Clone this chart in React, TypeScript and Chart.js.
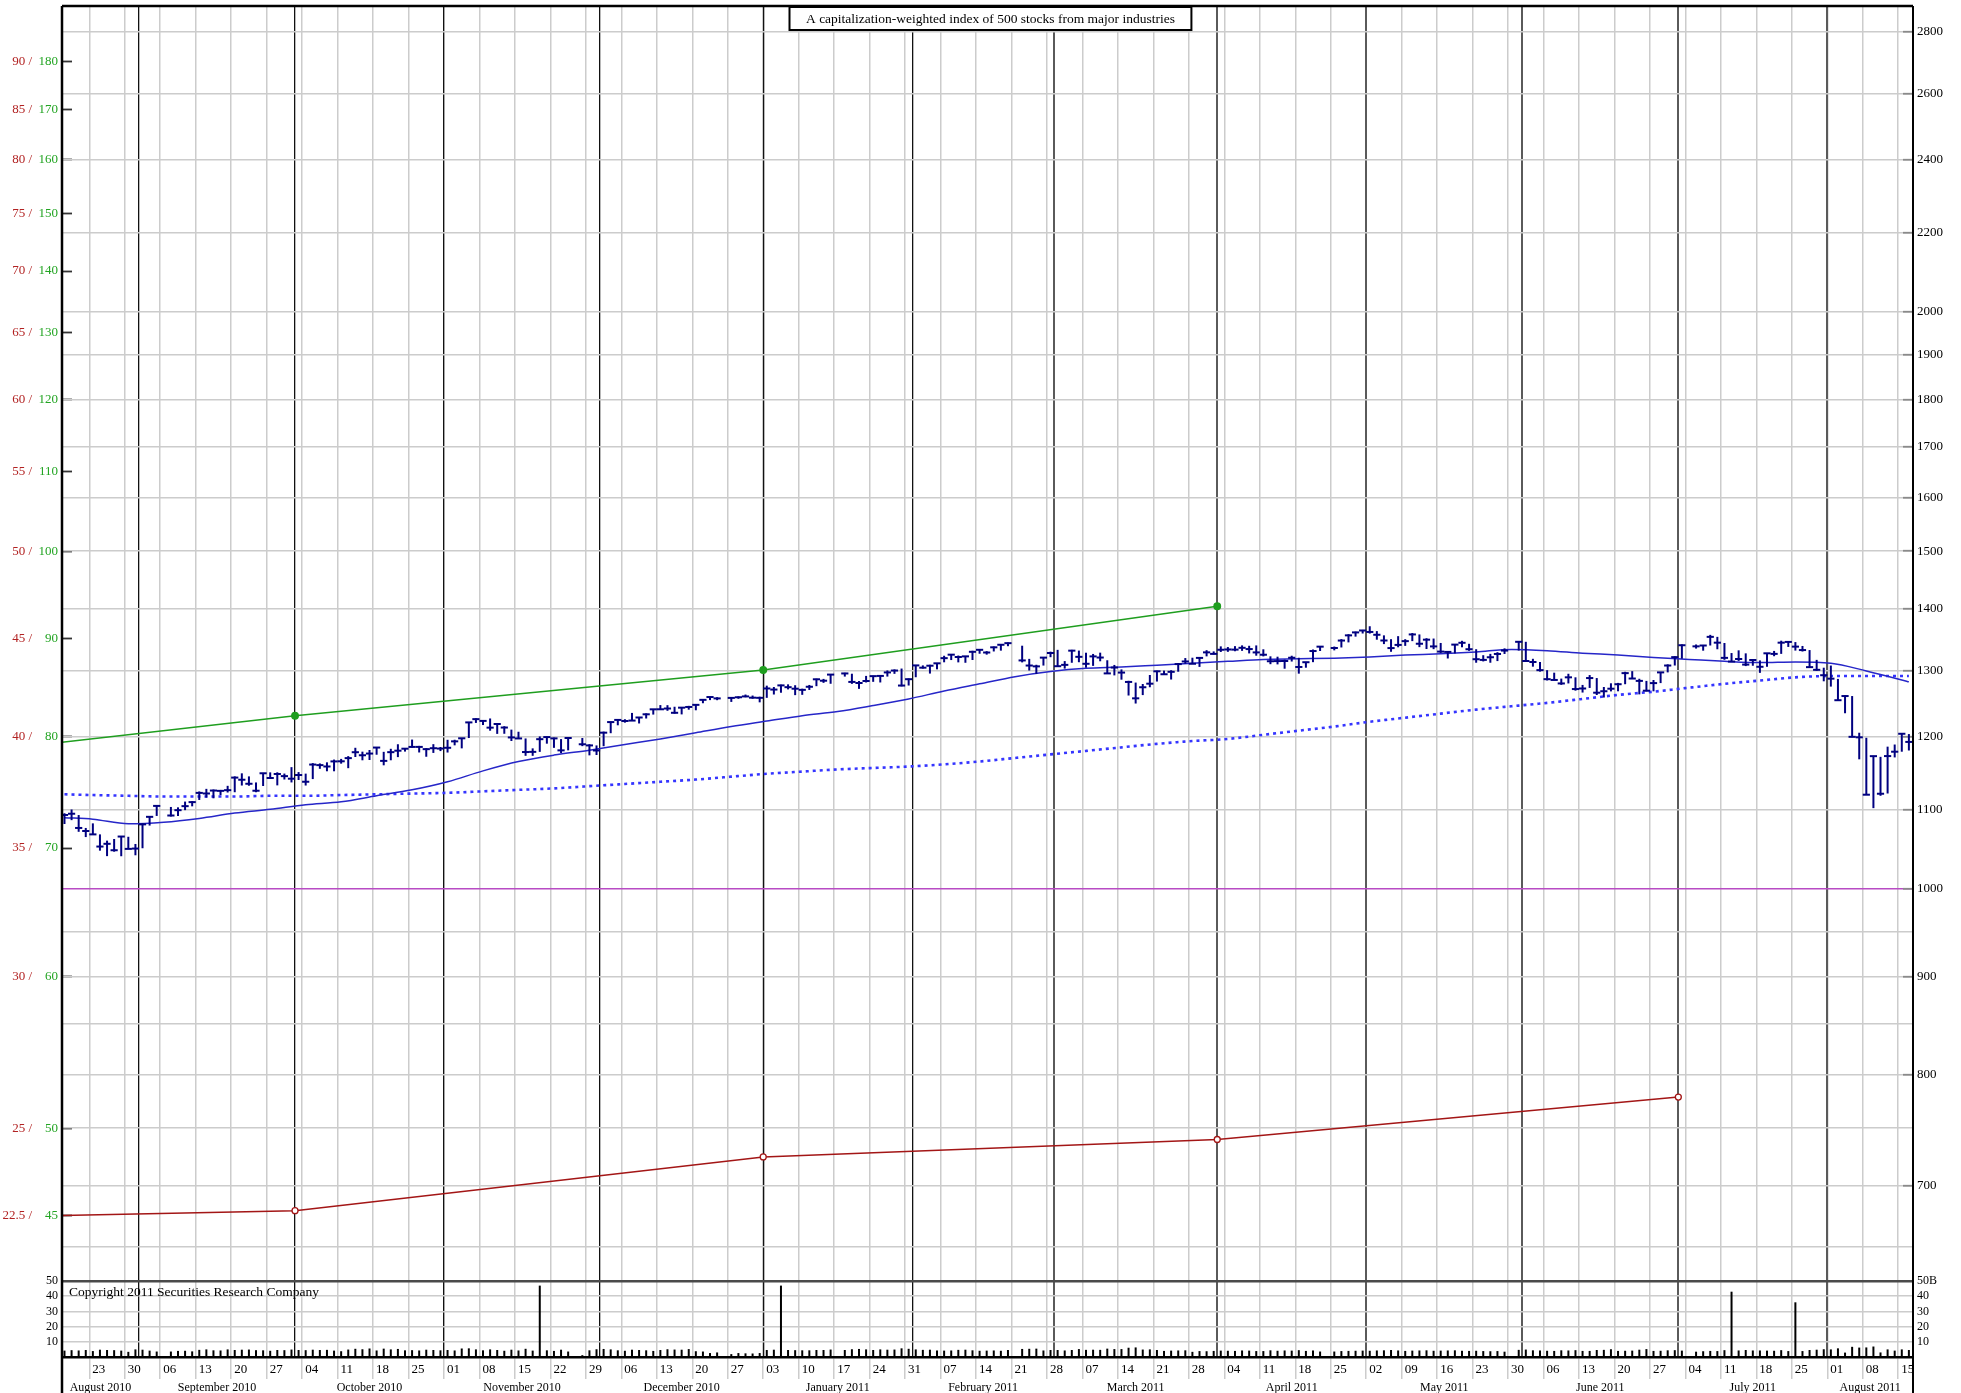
import React, { useEffect, useRef } from 'react';
import { Chart, registerables } from 'chart.js';

Chart.register(...registerables);

const SERIF = "'Liberation Serif', 'DejaVu Serif', 'Times New Roman', serif";

// ---------- axis ranges / layout constants ----------
const START_DATE = '2010-08-17'; // weekday slot 0
const SLOT_COUNT = 261;
const X_MIN = -0.35;
const X_MAX = 260.58;
const PRICE_MIN = 624.1;
const PRICE_MAX = 2887.5;
const VOLUME_MAX = 50;
const PRICE_STACK_WEIGHT = 1276;
const VOLUME_STACK_WEIGHT = 76;

const TITLE = 'A capitalization-weighted index of 500 stocks from major industries';
const COPYRIGHT = 'Copyright 2011 Securities Research Company';

// ---------- tick labels ----------
const MONTH_LABELS = ['August 2010', 'September 2010', 'October 2010', 'November 2010', 'December 2010', 'January 2011',
  'February 2011', 'March 2011', 'April 2011', 'May 2011', 'June 2011', 'July 2011', 'August 2011'];
const MONTH_STARTS = ['2010-09', '2010-10', '2010-11', '2010-12', '2011-01', '2011-02', '2011-03', '2011-04',
  '2011-05', '2011-06', '2011-07', '2011-08'];
const RIGHT_TICKS = [650, 700, 750, 800, 850, 900, 950, 1000, 1100, 1200, 1300, 1400, 1500, 1600, 1700, 1800, 1900, 2000, 2200, 2400, 2600, 2800];
const RIGHT_LABELS = ['', '700', '', '800', '', '900', '', '1000', '1100', '1200', '1300', '1400', '1500', '1600', '1700', '1800', '1900', '2000', '2200', '2400', '2600', '2800'];
const LEFT_TICK_PRICES = [675, 750, 900, 1050, 1200, 1350, 1500, 1650, 1800, 1950, 2100, 2250, 2400, 2550, 2700];
const LEFT_RED_LABELS = ['22.5 /', '25 /', '30 /', '35 /', '40 /', '45 /', '50 /', '55 /', '60 /', '65 /', '70 /', '75 /', '80 /', '85 /', '90 /'];
const LEFT_GREEN_LABELS = ['45', '50', '60', '70', '80', '90', '100', '110', '120', '130', '140', '150', '160', '170', '180'];
const VOLUME_TICKS = [10, 20, 30, 40, 50];
const VOLUME_LEFT_LABELS = ['10', '20', '30', '40', '50'];
const VOLUME_RIGHT_LABELS = ['10', '20', '30', '40', '50B'];

// ---------- daily data (one row per week, Mon..Fri; null = market holiday) ----------
const CLOSES = [
  1092.54, 1094.16, 1075.63, 1071.69,
  1067.36, 1051.87, 1055.33, 1047.22, 1064.59,
  1048.92, 1049.33, 1080.29, 1090.10, 1104.51,
  null, 1091.84, 1098.87, 1104.18, 1109.55,
  1121.90, 1121.10, 1125.07, 1124.66, 1125.59,
  1142.71, 1139.78, 1134.28, 1124.83, 1148.67,
  1142.16, 1147.70, 1144.73, 1141.20, 1146.24,
  1137.03, 1160.75, 1159.97, 1158.06, 1165.15,
  1165.32, 1169.77, 1178.10, 1173.81, 1176.19,
  1184.71, 1165.90, 1178.17, 1180.26, 1183.08,
  1185.62, 1185.64, 1182.45, 1183.78, 1183.26,
  1184.38, 1193.57, 1197.96, 1221.06, 1225.85,
  1223.25, 1213.40, 1218.71, 1213.54, 1199.21,
  1197.75, 1178.34, 1178.59, 1196.69, 1199.73,
  1197.84, 1180.73, 1198.35, null, 1189.40,
  1187.76, 1180.55, 1206.07, 1221.53, 1224.71,
  1223.12, 1223.75, 1228.28, 1233.00, 1240.40,
  1240.46, 1241.59, 1235.23, 1242.87, 1243.91,
  1247.08, 1254.60, 1258.84, 1256.77, null,
  1257.54, 1258.51, 1259.78, 1257.88, 1257.64,
  1271.87, 1270.20, 1276.56, 1273.85, 1271.50,
  1269.75, 1274.48, 1285.96, 1283.76, 1293.24,
  null, 1295.02, 1281.92, 1280.26, 1283.35,
  1290.84, 1291.18, 1296.63, 1299.54, 1276.34,
  1286.12, 1307.59, 1304.03, 1307.10, 1310.87,
  1319.05, 1324.57, 1320.88, 1321.87, 1329.15,
  1332.32, 1328.01, 1336.32, 1340.43, 1343.01,
  null, 1315.44, 1307.40, 1306.10, 1319.88,
  1327.22, 1306.33, 1308.44, 1330.97, 1321.15,
  1310.13, 1321.82, 1320.02, 1295.11, 1304.28,
  1296.39, 1281.87, 1256.88, 1273.72, 1279.20,
  1298.38, 1293.77, 1297.54, 1309.66, 1313.80,
  1310.19, 1319.44, 1328.26, 1325.83, 1332.41,
  1332.87, 1332.63, 1335.54, 1333.51, 1328.17,
  1324.46, 1314.16, 1314.41, 1314.52, 1319.68,
  1305.14, 1312.62, 1330.36, 1337.38, null,
  1335.25, 1347.24, 1355.66, 1360.48, 1363.61,
  1361.22, 1356.62, 1347.32, 1335.10, 1340.20,
  1346.29, 1357.16, 1342.08, 1348.65, 1337.77,
  1329.47, 1328.98, 1340.68, 1343.60, 1333.27,
  1317.37, 1316.28, 1320.47, 1325.69, 1331.10,
  null, 1345.20, 1314.55, 1312.94, 1300.16,
  1286.17, 1284.94, 1279.56, 1289.00, 1270.98,
  1271.83, 1287.87, 1265.42, 1267.64, 1271.50,
  1278.36, 1295.52, 1287.14, 1283.50, 1268.45,
  1280.10, 1296.67, 1307.41, 1320.64, 1339.67,
  null, 1337.88, 1339.22, 1353.22, 1343.80,
  1319.49, 1313.64, 1317.72, 1308.87, 1316.14,
  1305.44, 1326.73, 1325.84, 1343.80, 1345.02,
  1337.43, 1331.94, 1304.89, 1300.67, 1292.28,
  1286.94, 1254.05, 1260.34, 1200.07, 1199.38,
  1119.46, 1172.53, 1120.76, 1172.64, 1178.81,
  1204.49, 1192.76,
];

const HIGHS = [
  1094.81, 1099.77, 1092.44, 1075.63,
  1081.58, 1067.36, 1059.38, 1061.45, 1065.21,
  1064.29, 1055.14, 1081.30, 1090.10, 1105.10,
  null, 1103.11, 1102.60, 1110.27, 1110.88,
  1123.87, 1127.36, 1126.46, 1125.90, 1131.47,
  1144.38, 1148.59, 1144.38, 1136.08, 1148.90,
  1149.92, 1150.00, 1148.26, 1157.16, 1150.30,
  1148.16, 1162.76, 1162.33, 1163.87, 1167.73,
  1168.68, 1172.58, 1184.38, 1178.89, 1181.20,
  1185.53, 1178.64, 1182.94, 1189.43, 1183.93,
  1196.14, 1187.11, 1183.80, 1189.53, 1185.53,
  1195.81, 1195.88, 1198.30, 1221.25, 1227.08,
  1224.57, 1226.84, 1218.75, 1215.45, 1210.50,
  1207.43, 1197.75, 1183.56, 1200.65, 1200.29,
  1198.94, 1196.82, 1198.62, null, 1198.35,
  1189.40, 1187.76, 1207.61, 1221.89, 1225.57,
  1225.73, 1235.05, 1228.93, 1234.35, 1240.40,
  1246.73, 1246.59, 1244.25, 1243.23, 1245.60,
  1248.29, 1255.82, 1259.39, 1258.59, null,
  1258.59, 1259.90, 1262.60, 1261.09, 1259.34,
  1276.17, 1274.12, 1277.63, 1278.17, 1276.83,
  1271.52, 1277.25, 1286.87, 1286.57, 1293.24,
  null, 1296.06, 1294.60, 1283.32, 1291.21,
  1291.26, 1291.26, 1299.74, 1301.29, 1302.67,
  1287.17, 1308.10, 1307.61, 1308.60, 1311.00,
  1322.85, 1324.87, 1323.21, 1322.43, 1330.79,
  1332.69, 1330.16, 1337.61, 1341.50, 1344.07,
  null, 1338.91, 1317.91, 1308.61, 1320.61,
  1329.38, 1332.28, 1314.39, 1332.28, 1331.08,
  1327.68, 1325.74, 1327.77, 1315.72, 1308.35,
  1301.33, 1283.65, 1280.91, 1278.73, 1292.62,
  1299.18, 1299.48, 1300.00, 1311.34, 1319.18,
  1319.74, 1319.45, 1331.74, 1329.77, 1337.85,
  1336.74, 1338.21, 1339.46, 1338.80, 1339.38,
  1333.16, 1321.95, 1321.35, 1316.79, 1322.88,
  1319.68, 1312.70, 1332.83, 1337.49, null,
  1337.55, 1349.55, 1357.49, 1361.71, 1364.56,
  1370.58, 1362.59, 1355.66, 1349.44, 1354.36,
  1349.44, 1359.44, 1357.16, 1351.04, 1350.47,
  1343.33, 1330.42, 1341.29, 1346.82, 1342.00,
  1333.27, 1323.72, 1325.86, 1328.51, 1334.62,
  null, 1345.20, 1345.20, 1318.03, 1312.94,
  1300.16, 1296.22, 1287.04, 1294.54, 1289.00,
  1277.29, 1292.50, 1287.87, 1274.11, 1279.82,
  1280.42, 1297.62, 1298.61, 1286.79, 1283.50,
  1284.91, 1296.80, 1309.21, 1321.97, 1341.01,
  null, 1340.89, 1340.12, 1356.48, 1353.22,
  1343.31, 1327.16, 1331.48, 1326.68, 1317.74,
  1315.47, 1327.16, 1330.55, 1347.00, 1346.10,
  1344.76, 1338.51, 1331.91, 1316.32, 1304.00,
  1307.38, 1286.56, 1261.20, 1260.34, 1206.00,
  1198.70, 1172.88, 1171.56, 1186.00, 1189.04,
  1204.49, 1204.07,
];

const LOWS = [
  1080.78, 1085.76, 1070.66, 1063.91,
  1067.08, 1046.68, 1039.83, 1045.40, 1039.70,
  1048.79, 1040.88, 1049.72, 1078.71, 1091.27,
  null, 1090.55, 1091.15, 1098.87, 1103.92,
  1112.43, 1115.58, 1114.63, 1118.88, 1122.43,
  1122.79, 1131.87, 1131.58, 1122.79, 1131.26,
  1142.00, 1132.09, 1140.09, 1136.08, 1139.42,
  1131.87, 1140.68, 1154.85, 1151.41, 1151.41,
  1162.02, 1155.71, 1171.32, 1166.71, 1167.12,
  1174.55, 1159.71, 1166.74, 1171.17, 1178.99,
  1184.74, 1177.72, 1171.70, 1177.10, 1179.70,
  1177.65, 1187.86, 1183.56, 1198.34, 1220.29,
  1217.19, 1208.94, 1204.33, 1204.49, 1194.08,
  1197.15, 1173.00, 1173.00, 1178.59, 1190.25,
  1184.29, 1176.91, 1180.73, null, 1186.71,
  1173.64, 1174.14, 1186.60, 1205.30, 1216.82,
  1220.67, 1223.25, 1219.50, 1226.79, 1232.58,
  1240.34, 1238.17, 1234.01, 1232.85, 1239.87,
  1238.96, 1249.49, 1254.19, 1254.05, null,
  1251.48, 1256.22, 1258.51, 1256.32, 1250.84,
  1257.62, 1262.66, 1265.36, 1270.43, 1261.70,
  1262.18, 1269.62, 1275.36, 1280.47, 1279.07,
  null, 1290.16, 1278.92, 1271.26, 1281.07,
  1282.06, 1281.07, 1290.16, 1294.41, 1275.10,
  1276.36, 1289.14, 1302.62, 1294.83, 1301.42,
  1312.49, 1316.03, 1312.36, 1311.74, 1316.08,
  1326.04, 1324.61, 1329.67, 1331.00, 1338.12,
  null, 1312.33, 1299.55, 1294.26, 1307.34,
  1320.55, 1306.14, 1302.58, 1311.74, 1312.59,
  1303.99, 1306.86, 1314.09, 1294.21, 1291.99,
  1285.37, 1261.13, 1249.05, 1261.78, 1273.72,
  1282.48, 1292.70, 1285.60, 1297.74, 1310.15,
  1310.19, 1305.26, 1321.89, 1325.03, 1328.89,
  1329.10, 1330.03, 1330.67, 1326.56, 1322.94,
  1321.82, 1309.51, 1309.19, 1302.42, 1313.68,
  1294.70, 1303.97, 1312.70, 1330.42, null,
  1331.47, 1336.07, 1344.25, 1353.60, 1358.69,
  1358.59, 1348.59, 1341.50, 1329.17, 1336.36,
  1338.64, 1346.29, 1336.58, 1333.58, 1333.36,
  1327.32, 1318.51, 1326.56, 1336.36, 1330.67,
  1311.80, 1313.87, 1311.80, 1314.41, 1325.69,
  null, 1331.10, 1313.71, 1305.61, 1297.90,
  1284.17, 1284.74, 1277.42, 1279.56, 1268.53,
  1265.64, 1272.68, 1261.90, 1258.07, 1267.40,
  1267.56, 1278.36, 1286.79, 1262.87, 1267.46,
  1267.53, 1280.10, 1296.67, 1307.41, 1318.18,
  null, 1334.30, 1330.92, 1339.22, 1333.20,
  1316.42, 1313.33, 1314.69, 1306.51, 1307.06,
  1295.92, 1305.44, 1322.10, 1325.84, 1336.95,
  1331.09, 1329.59, 1303.49, 1299.16, 1282.86,
  1274.73, 1254.03, 1234.56, 1199.54, 1168.09,
  1119.28, 1101.54, 1118.01, 1121.09, 1170.74,
  1178.81, 1180.53,
];

// volume, billions of shares
const VOLUMES = [
  4.2, 4.5, 4.3, 4.6,
  3.9, 4.8, 4.6, 4.5, 4.2,
  3.4, 5.0, 4.8, 4.2, 3.6,
  null, 3.6, 4.0, 4.1, 3.7,
  4.7, 5.0, 4.4, 4.3, 5.0,
  4.6, 4.8, 4.9, 4.5, 4.4,
  4.1, 4.6, 4.5, 4.9, 4.6,
  4.5, 4.8, 4.6, 4.7, 4.2,
  3.8, 4.9, 5.4, 5.1, 5.6,
  4.3, 5.5, 5.0, 5.3, 4.4,
  4.5, 4.3, 4.8, 4.6, 4.4,
  4.6, 4.3, 5.6, 5.7, 5.0,
  4.4, 5.0, 4.6, 4.1, 4.8,
  4.3, 5.4, 4.2, 47.0, 4.4,
  4.0, 4.8, 3.6, null, 1.2,
  4.4, 5.1, 5.3, 5.0, 4.4,
  4.1, 4.8, 4.6, 4.4, 4.0,
  4.6, 5.1, 4.9, 4.8, 5.2,
  3.8, 3.6, 2.6, 3.0, null,
  1.9, 2.6, 2.4, 2.3, 2.6,
  4.6, 4.8, 47.0, 4.6, 4.5,
  4.4, 4.4, 4.6, 4.6, 4.9,
  null, 4.6, 5.1, 5.3, 5.0,
  4.6, 5.0, 4.8, 4.9, 5.7,
  5.4, 5.0, 4.7, 4.8, 4.3,
  4.2, 4.3, 4.7, 4.8, 4.4,
  4.1, 4.2, 4.3, 4.1, 4.6,
  null, 5.3, 5.4, 5.5, 4.3,
  4.6, 4.6, 4.3, 4.6, 5.2,
  4.7, 4.8, 4.7, 5.5, 5.2,
  5.2, 6.1, 6.3, 4.9, 5.0,
  4.6, 4.0, 4.2, 4.3, 4.4,
  3.4, 3.9, 3.8, 4.0, 4.2,
  4.1, 4.0, 4.3, 4.2, 3.9,
  3.9, 4.4, 4.1, 4.3, 4.2,
  4.5, 4.0, 4.3, 3.6, null,
  3.6, 3.9, 4.0, 4.1, 4.2,
  4.1, 4.3, 4.4, 4.6, 4.3,
  4.0, 4.2, 4.3, 4.4, 4.1,
  4.2, 4.3, 4.4, 4.1, 4.0,
  4.1, 3.9, 3.8, 3.9, 3.5,
  null, 4.7, 4.9, 4.4, 4.3,
  4.1, 4.0, 4.4, 4.3, 4.5,
  4.0, 4.0, 4.6, 4.7, 5.1,
  4.0, 4.1, 4.2, 4.8, 5.2,
  4.0, 4.1, 4.4, 4.5, 4.2,
  null, 3.5, 3.8, 4.0, 3.9,
  4.5, 43.0, 4.3, 4.6, 4.3,
  4.3, 4.2, 4.1, 4.5, 3.9,
  36.0, 3.9, 4.6, 4.8, 5.1,
  5.0, 5.7, 2.9, 6.7, 6.2,
  6.3, 6.9, 3.0, 5.0, 4.2,
  5.0, 4.6,
];

// ---------- moving averages at weekly points ----------
const MA_DATES = ['2010-08-17', '2010-08-23', '2010-08-30', '2010-09-06', '2010-09-13', '2010-09-20', '2010-09-27',
  '2010-10-04', '2010-10-11', '2010-10-18', '2010-10-25', '2010-11-01', '2010-11-08', '2010-11-15', '2010-11-22',
  '2010-11-29', '2010-12-06', '2010-12-13', '2010-12-20', '2010-12-27', '2011-01-03', '2011-01-10', '2011-01-17',
  '2011-01-24', '2011-01-31', '2011-02-07', '2011-02-14', '2011-02-21', '2011-02-28', '2011-03-07', '2011-03-14',
  '2011-03-21', '2011-03-28', '2011-04-04', '2011-04-11', '2011-04-18', '2011-04-25', '2011-05-02', '2011-05-09',
  '2011-05-16', '2011-05-23', '2011-05-30', '2011-06-06', '2011-06-13', '2011-06-20', '2011-06-27', '2011-07-04',
  '2011-07-11', '2011-07-18', '2011-07-25', '2011-08-01', '2011-08-08', '2011-08-15', '2011-08-16'];
const MA_SHORT = [1089, 1087, 1081, 1083, 1088, 1095, 1100, 1106, 1110, 1118, 1126, 1137, 1152, 1165, 1174, 1181,
  1189, 1197, 1206, 1215, 1223, 1231, 1237, 1246, 1256, 1268, 1279, 1290, 1298, 1303, 1305, 1308, 1311, 1314, 1317,
  1318, 1319, 1321, 1324, 1326, 1329, 1333, 1331, 1327, 1324, 1320, 1317, 1314, 1312, 1313, 1311, 1299, 1285, 1282];
const MA_LONG = [1120, 1119, 1118, 1117, 1117, 1117, 1118, 1118, 1119, 1120, 1121, 1122, 1124, 1126, 1128, 1131,
  1134, 1137, 1140, 1144, 1148, 1151, 1154, 1156, 1158, 1161, 1165, 1170, 1175, 1180, 1185, 1190, 1194, 1197, 1203,
  1209, 1215, 1222, 1228, 1234, 1240, 1245, 1250, 1256, 1262, 1267, 1273, 1279, 1284, 1289, 1291, 1291, 1291, 1291];

// ---------- quarterly earnings (green, x15) and dividends (red, x30) ----------
const EARNINGS_DATES = ['2010-07', '2010-10', '2011-01', '2011-04'];
const EARNINGS = [77.0, 82.05, 86.7, 93.6];
const EARNINGS_RATIO = 15;
const DIVIDEND_DATES = ['2010-07', '2010-10', '2011-01', '2011-04', '2011-07'];
const DIVIDENDS = [22.37, 22.64, 24.15, 24.66, 25.95];
const DIVIDEND_RATIO = 30;

const REFERENCE_LINE = 1000;

// ---------- colours ----------
const NAVY = '#000080';
const RED_TXT = '#b22222';
const GREEN_TXT = '#22a422';
const GRID = '#cccccc';

// ---------- calendar helpers ----------
function parseDate(s: string) {
  const [y, m, d] = s.split('-').map(Number);
  return new Date(Date.UTC(y, m - 1, d || 1));
}
function addDays(d: Date, n: number) {
  const r = new Date(d.getTime());
  r.setUTCDate(r.getUTCDate() + n);
  return r;
}
function isWeekday(d: Date) {
  const w = d.getUTCDay();
  return w !== 0 && w !== 6;
}
function weekdayIndex(s: string | Date) {
  const start = parseDate(START_DATE);
  const target = typeof s === 'string' ? parseDate(s) : s;
  let n = 0;
  if (target.getTime() >= start.getTime()) {
    for (let d = start; d.getTime() < target.getTime(); d = addDays(d, 1)) if (isWeekday(d)) n++;
    return n;
  }
  for (let d = target; d.getTime() < start.getTime(); d = addDays(d, 1)) if (isWeekday(d)) n--;
  return n;
}
function monthBoundary(ym: string) {
  let d = parseDate(ym + '-01');
  while (!isWeekday(d)) d = addDays(d, 1);
  return weekdayIndex(d) - 0.5;
}

const SLOT_DATES: Date[] = [];
{
  let d = parseDate(START_DATE);
  while (SLOT_DATES.length < SLOT_COUNT) {
    if (isWeekday(d)) SLOT_DATES.push(d);
    d = addDays(d, 1);
  }
}

const WEEK_TICKS: { value: number; label: string }[] = [];
SLOT_DATES.forEach((d, i) => {
  if (d.getUTCDay() === 1) WEEK_TICKS.push({ value: i - 0.5, label: String(d.getUTCDate()).padStart(2, '0') });
});

const BOUNDARIES = MONTH_STARTS.map(monthBoundary);
const MONTH_EDGES = [X_MIN, ...BOUNDARIES, X_MAX];
const MONTH_TICKS: { value: number; label: string; boundary: boolean; dark: boolean }[] = [];
BOUNDARIES.forEach((b, i) => MONTH_TICKS.push({ value: b, label: '', boundary: true, dark: i < 6 }));
MONTH_LABELS.forEach((lab, i) => MONTH_TICKS.push({ value: (MONTH_EDGES[i] + MONTH_EDGES[i + 1]) / 2, label: lab, boundary: false, dark: false }));

// ---------- datasets ----------
const rangeBars: any[] = [];
const closeTicks: any[] = [];
const volumeBars: any[] = [];
for (let i = 0; i < SLOT_COUNT; i++) {
  if (CLOSES[i] != null) {
    rangeBars.push({ x: i, y: [LOWS[i], HIGHS[i]] });
    closeTicks.push({ x: i, y: CLOSES[i] });
  }
  if (VOLUMES[i] != null) volumeBars.push({ x: i, y: VOLUMES[i] });
}
const maShort = MA_DATES.map((d, i) => ({ x: weekdayIndex(d), y: MA_SHORT[i] }));
const maLong = MA_DATES.map((d, i) => ({ x: weekdayIndex(d), y: MA_LONG[i] }));
const earningsPts = EARNINGS_DATES.map((d, i) => ({ x: monthBoundary(d), y: EARNINGS[i] * EARNINGS_RATIO }));
const dividendPts = DIVIDEND_DATES.map((d, i) => ({ x: monthBoundary(d), y: DIVIDENDS[i] * DIVIDEND_RATIO }));

// ---------- scale helpers ----------
const setTicks = (values: number[]) => (scale: any) => {
  scale.ticks = values.map((v) => ({ value: v }));
};
const fitW = (w: number) => (s: any) => {
  s.width = w;
  s.paddingTop = 0; s.paddingBottom = 0; s.paddingLeft = 0; s.paddingRight = 0;
};
const fitH = (h: number) => (s: any) => {
  s.height = h;
  s.paddingTop = 0; s.paddingBottom = 0; s.paddingLeft = 0; s.paddingRight = 0;
};
const font13 = { family: SERIF, size: 13 };
const font12 = { family: SERIF, size: 12 };

const decorPlugin = {
  id: 'decor',
  afterDatasetsDraw(chart: any) {
    const { ctx, chartArea: a } = chart;
    const vol = chart.scales.yVR;
    ctx.save();
    // title box
    ctx.font = `13.5px ${SERIF}`;
    const tw = ctx.measureText(TITLE).width;
    const cx = a.left + a.width * 0.5016;
    const bw = tw + 33;
    const bx = cx - bw / 2;
    const by = a.top + 1;
    const bh = 23;
    ctx.fillStyle = '#fff';
    ctx.fillRect(bx, by, bw, bh);
    ctx.strokeStyle = '#000';
    ctx.lineWidth = 2;
    ctx.strokeRect(bx, by, bw, bh);
    ctx.fillStyle = '#000';
    ctx.textAlign = 'center';
    ctx.textBaseline = 'middle';
    ctx.fillText(TITLE, cx, by + bh / 2 + 1);
    // copyright
    ctx.font = `13.5px ${SERIF}`;
    ctx.textAlign = 'left';
    ctx.fillText(COPYRIGHT, a.left + 7, vol.top + 11);
    // frame
    ctx.strokeStyle = '#000';
    ctx.lineWidth = 2.5;
    ctx.beginPath();
    ctx.moveTo(a.left, a.top);
    ctx.lineTo(a.left, chart.height);
    ctx.moveTo(a.left, a.top);
    ctx.lineTo(a.right, a.top);
    ctx.stroke();
    ctx.lineWidth = 2;
    ctx.beginPath();
    ctx.moveTo(a.right, a.top);
    ctx.lineTo(a.right, chart.height);
    ctx.stroke();
    ctx.restore();
  },
};

export default function App() {
  const ref = useRef<HTMLCanvasElement>(null);

  useEffect(() => {
    if (!ref.current) return;
    const chart = new Chart(ref.current, {
      type: 'bar',
      data: {
        datasets: [
          {
            type: 'line', label: 'close', data: closeTicks, xAxisID: 'x', yAxisID: 'yP',
            showLine: false, pointStyle: 'line', pointRadius: 3.6, pointBorderWidth: 2,
            pointBorderColor: NAVY, pointBackgroundColor: NAVY, order: 0,
          } as any,
          {
            type: 'bar', label: 'range', data: rangeBars, xAxisID: 'x', yAxisID: 'yP',
            backgroundColor: NAVY, borderWidth: 0, grouped: false, maxBarThickness: 2, order: 1,
          } as any,
          {
            type: 'bar', label: 'volume', data: volumeBars, xAxisID: 'x', yAxisID: 'yVL',
            backgroundColor: '#000', borderWidth: 0, grouped: false, maxBarThickness: 2, order: 1,
          } as any,
          {
            type: 'line', label: 'earnings', data: earningsPts, xAxisID: 'x', yAxisID: 'yP',
            borderColor: '#1f9e1f', borderWidth: 1.5, pointRadius: [0, 3.2, 3.2, 3.2],
            pointBackgroundColor: '#1f9e1f', pointBorderColor: '#1f9e1f', order: 2,
          } as any,
          {
            type: 'line', label: 'dividends', data: dividendPts, xAxisID: 'x', yAxisID: 'yP',
            borderColor: '#a31616', borderWidth: 1.5, pointRadius: [0, 3, 3, 3, 3],
            pointBackgroundColor: '#fff', pointBorderColor: '#a31616', pointBorderWidth: 1.3, order: 2,
          } as any,
          {
            type: 'line', label: 'ma short', data: maShort, xAxisID: 'x', yAxisID: 'yP',
            borderColor: '#2626c8', borderWidth: 1.5, pointRadius: 0, cubicInterpolationMode: 'monotone', order: 3,
          } as any,
          {
            type: 'line', label: 'ma long', data: maLong, xAxisID: 'x', yAxisID: 'yP',
            borderColor: '#3535ff', borderWidth: 2.6, borderDash: [3, 4], pointRadius: 0,
            cubicInterpolationMode: 'monotone', order: 3,
          } as any,
        ],
      },
      options: {
        responsive: false,
        animation: false,
        devicePixelRatio: 1,
        events: [],
        layout: { padding: { top: 5, left: 0, right: 0, bottom: 0 } },
        plugins: { legend: { display: false }, tooltip: { enabled: false }, title: { display: false } },
        scales: {
          x: {
            type: 'linear', position: 'bottom', weight: 0, min: X_MIN, max: X_MAX, offset: false,
            afterBuildTicks: (s: any) => { s.ticks = WEEK_TICKS.map((t) => ({ value: t.value })); },
            afterFit: fitH(18),
            grid: { offset: false, color: GRID, lineWidth: 1.5, tickLength: 22, tickColor: GRID, tickWidth: 1.5 },
            border: { display: true, color: '#000', width: 2.5 },
            ticks: {
              autoSkip: false, maxRotation: 0, minRotation: 0, align: 'start', padding: -17, labelOffset: 3,
              color: '#000', font: font13, callback: (_v: any, i: number) => WEEK_TICKS[i]?.label ?? '',
            },
          },
          x2: {
            type: 'linear', position: 'bottom', weight: 1, min: X_MIN, max: X_MAX, offset: false,
            afterBuildTicks: (s: any) => { s.ticks = MONTH_TICKS.map((t) => ({ value: t.value })); },
            afterFit: fitH(18),
            grid: {
              offset: false, drawTicks: false, drawOnChartArea: true,
              color: (c: any) => {
                const t = MONTH_TICKS[c.index];
                if (!t || !t.boundary) return 'rgba(0,0,0,0)';
                return t.dark ? '#111' : '#5a5a5a';
              },
              lineWidth: (c: any) => (MONTH_TICKS[c.index]?.dark ? 1.3 : 2),
            },
            border: { display: false },
            ticks: {
              autoSkip: false, maxRotation: 0, minRotation: 0, padding: 6, color: '#000', font: font12,
              callback: (_v: any, i: number) => MONTH_TICKS[i]?.label ?? '',
            },
          },
          yR: {
            type: 'logarithmic', position: 'left', weight: 4, stack: 'leftOuter', stackWeight: PRICE_STACK_WEIGHT,
            min: PRICE_MIN, max: PRICE_MAX,
            afterBuildTicks: setTicks(LEFT_TICK_PRICES), afterFit: fitW(35),
            grid: { display: true, drawOnChartArea: false, drawTicks: false },
            border: { display: false },
            ticks: { autoSkip: false, padding: 3, color: RED_TXT, font: font13, callback: (_v: any, i: number) => LEFT_RED_LABELS[i] ?? '' },
          },
          yRV: {
            type: 'linear', position: 'left', weight: 3, stack: 'leftOuter', stackWeight: VOLUME_STACK_WEIGHT,
            min: 0, max: VOLUME_MAX, afterFit: fitW(35),
            grid: { display: false, drawTicks: false }, border: { display: false }, ticks: { display: false },
          },
          yG: {
            type: 'logarithmic', position: 'left', weight: 2, stack: 'leftInner', stackWeight: PRICE_STACK_WEIGHT,
            min: PRICE_MIN, max: PRICE_MAX,
            afterBuildTicks: setTicks(LEFT_TICK_PRICES), afterFit: fitW(27),
            grid: { display: true, drawOnChartArea: false, drawTicks: true, tickLength: -10, tickColor: '#333', tickWidth: 1.8 },
            border: { display: false },
            ticks: { autoSkip: false, padding: 14, color: GREEN_TXT, font: font13, callback: (_v: any, i: number) => LEFT_GREEN_LABELS[i] ?? '' },
          },
          yVL: {
            type: 'linear', position: 'left', weight: 1, stack: 'leftInner', stackWeight: VOLUME_STACK_WEIGHT,
            min: 0, max: VOLUME_MAX, beginAtZero: true,
            afterBuildTicks: setTicks(VOLUME_TICKS), afterFit: fitW(27),
            grid: { display: false, drawTicks: false }, border: { display: false },
            ticks: { autoSkip: false, padding: 4, color: '#000', font: font12, callback: (_v: any, i: number) => VOLUME_LEFT_LABELS[i] ?? '' },
          },
          yP: {
            type: 'logarithmic', position: 'right', weight: 0, stack: 'right', stackWeight: PRICE_STACK_WEIGHT,
            min: PRICE_MIN, max: PRICE_MAX, beginAtZero: false,
            afterBuildTicks: setTicks(RIGHT_TICKS), afterFit: fitW(48),
            grid: {
              display: true, drawOnChartArea: true, drawTicks: true, tickLength: -10,
              color: (c: any) => (c.tick && c.tick.value === REFERENCE_LINE ? '#b84bc4' : GRID),
              lineWidth: (c: any) => (c.tick && c.tick.value === REFERENCE_LINE ? 1.6 : 1.5),
              tickColor: (c: any) => (RIGHT_LABELS[c.index] ? '#8a8a8a' : 'rgba(0,0,0,0)'),
              tickWidth: 1.8,
            },
            border: { display: false },
            ticks: { autoSkip: false, padding: 14, color: '#000', font: font13, callback: (_v: any, i: number) => RIGHT_LABELS[i] ?? '' },
          },
          yVR: {
            type: 'linear', position: 'right', weight: 1, stack: 'right', stackWeight: VOLUME_STACK_WEIGHT,
            min: 0, max: VOLUME_MAX,
            afterBuildTicks: setTicks(VOLUME_TICKS), afterFit: fitW(48),
            grid: {
              display: true, drawOnChartArea: true, drawTicks: false,
              color: (c: any) => (c.tick && c.tick.value === VOLUME_MAX ? '#4a4a4a' : GRID),
              lineWidth: (c: any) => (c.tick && c.tick.value === VOLUME_MAX ? 2.6 : 1.5),
            },
            border: { display: false },
            ticks: { autoSkip: false, padding: 4, color: '#000', font: font12, callback: (_v: any, i: number) => VOLUME_RIGHT_LABELS[i] ?? '' },
          },
        } as any,
      },
      plugins: [decorPlugin],
    } as any);
    return () => chart.destroy();
  }, []);

  return (
    <div style={{ position: 'fixed', left: 0, top: 0, width: 1961, height: 1393, background: '#fff' }}>
      <canvas ref={ref} width={1961} height={1393} style={{ display: 'block', width: 1961, height: 1393 }} />
    </div>
  );
}
